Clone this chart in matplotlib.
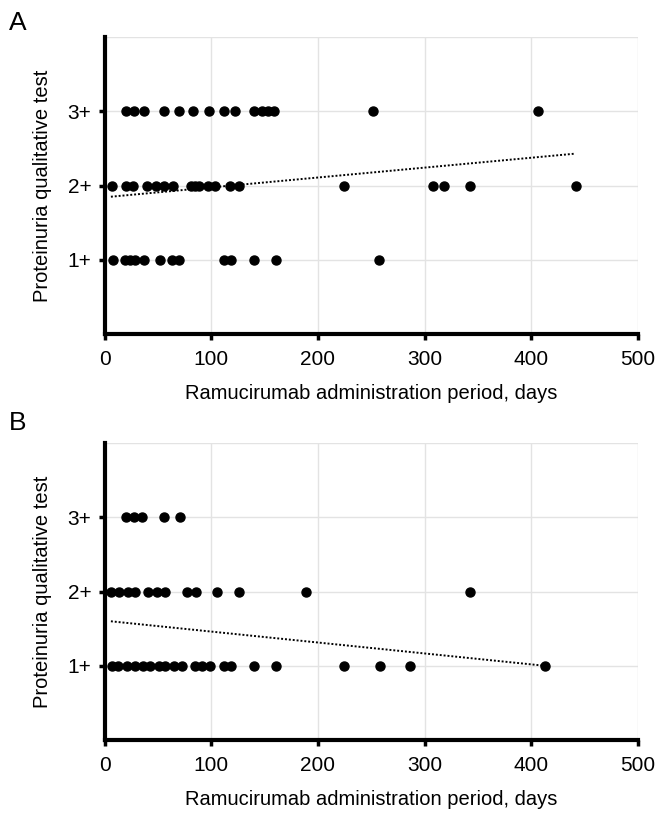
import matplotlib.pyplot as plt

plt.rcParams['font.family'] = ['Liberation Sans', 'DejaVu Sans']

# panel A: administration period (days) for each proteinuria grade
a_days_1 = [8, 19, 24, 29, 37, 52, 63, 70, 112, 119, 140, 161, 257]
a_days_2 = [7, 20, 27, 40, 48, 56, 64, 81, 85, 89, 97, 104, 118, 126,
            224, 308, 318, 343, 442]
a_days_3 = [20, 28, 37, 56, 70, 83, 98, 112, 122, 140, 148, 153, 159, 252, 406]
a_trend_x = [6, 441]
a_trend_y = [1.85, 2.43]

# panel B
b_days_1 = [7, 13, 21, 29, 36, 43, 51, 57, 65, 73, 85, 91, 99, 112, 119,
            140, 161, 224, 258, 286, 413]
b_days_2 = [6, 14, 22, 29, 41, 49, 57, 77, 86, 105, 126, 189, 343]
b_days_3 = [20, 28, 35, 56, 71]
b_trend_x = [6, 413]
b_trend_y = [1.6, 1.0]

grade_labels = ['1+', '2+', '3+']

fig = plt.figure(figsize=(6.56, 8.15), dpi=100)
axA = fig.add_axes([0.1593, 0.5902, 0.8133, 0.3642])
axB = fig.add_axes([0.1593, 0.0920, 0.8133, 0.3642])


def draw(ax, d1, d2, d3, tx, ty):
    ax.set_xlim(0, 500)
    ax.set_ylim(0, 4)
    for xv in [100, 200, 300, 400, 500]:
        ax.axvline(xv, color='#e3e3e3', lw=1.0, zorder=0)
    for yv in [1, 2, 3, 4]:
        ax.axhline(yv, color='#e3e3e3', lw=1.0, zorder=0)
    for lvl, days in zip([1, 2, 3], [d1, d2, d3]):
        ax.plot(days, [lvl] * len(days), 'o', color='black', markersize=6.5,
                linestyle='none', zorder=3, clip_on=False)
    ax.plot(tx, ty, color='black', linestyle=(0, (1, 1)), lw=1.4, zorder=2)
    for s in ['top', 'right']:
        ax.spines[s].set_visible(False)
    for s in ['left', 'bottom']:
        ax.spines[s].set_linewidth(3)
    ax.set_yticks([1, 2, 3])
    ax.set_yticklabels(grade_labels)
    ax.set_xticks([0, 100, 200, 300, 400, 500])
    ax.tick_params(axis='both', labelsize=15, width=2.5, length=4.5)
    ax.tick_params(axis='x', pad=7)
    ax.tick_params(axis='y', pad=5)
    ax.set_xlabel('Ramucirumab administration period, days', fontsize=14.5, labelpad=11)
    ax.set_ylabel('Proteinuria qualitative test', fontsize=14.5, labelpad=11)


draw(axA, a_days_1, a_days_2, a_days_3, a_trend_x, a_trend_y)
draw(axB, b_days_1, b_days_2, b_days_3, b_trend_x, b_trend_y)

fig.text(0.013, 0.972, 'A', fontsize=19, va='center', ha='left')
fig.text(0.013, 0.481, 'B', fontsize=19, va='center', ha='left')

plt.savefig('out.png', dpi=100)
